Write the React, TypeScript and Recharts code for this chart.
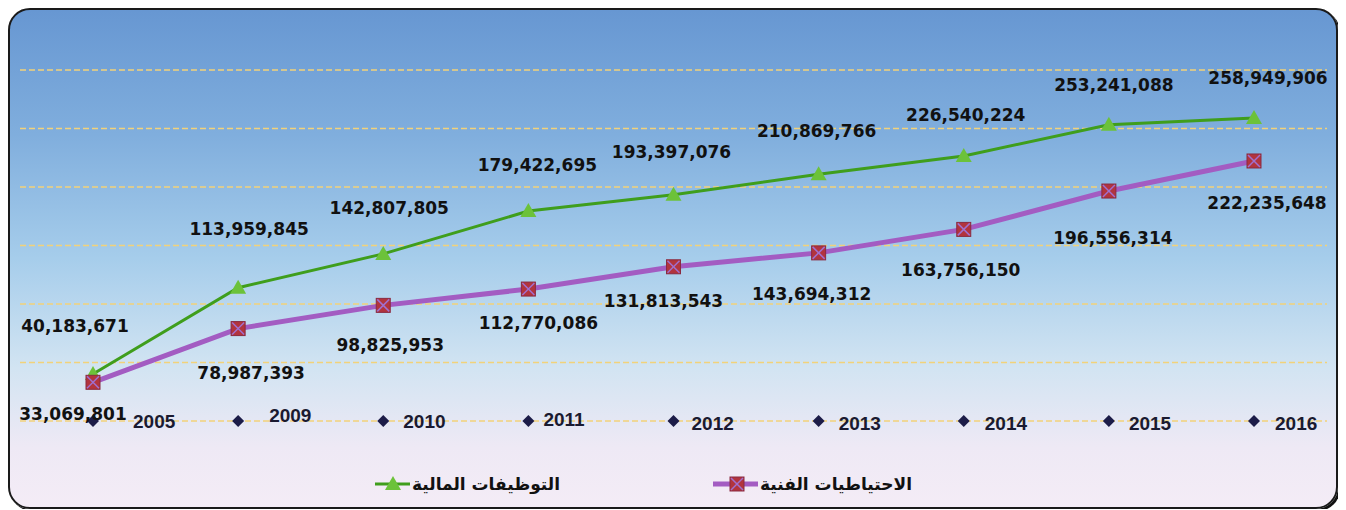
import { LineChart, Line, XAxis, YAxis, CartesianGrid, LabelList, Legend } from "recharts";

const years = ["2005", "2009", "2010", "2011", "2012", "2013", "2014", "2015", "2016"];
// التوظيفات المالية
const investments = [40183671, 113959845, 142807805, 179422695, 193397076, 210869766, 226540224, 253241088, 258949906];
// الاحتياطيات الفنية
const reserves = [33069801, 78987393, 98825953, 112770086, 131813543, 143694312, 163756150, 196556314, 222235648];
const yTicks = [0, 50000000, 100000000, 150000000, 200000000, 250000000, 300000000];

const data = years.map((year, i) => ({ year, investments: investments[i], reserves: reserves[i] }));

// label nudges (px), per point
const greenShift = [[-18, -48], [11, -59], [6, -46], [9, -46], [-2, -43], [-2, -43], [2, -41], [5, -40], [14, -40]];
const purpleShift = [[-20, 32], [13, 44], [7, 40], [10, 34], [-10, 34], [-7, 41], [-3, 41], [4, 47], [13, 42]];
const yearShift = [[40, 0], [31, -6], [20, 0], [15, -2], [18, 2], [20, 2], [21, 2], [20, 2], [21, 2]];

const GREEN = "#3f9e1c";
const TRI = "#6cc23a";
const PURPLE = "#a35cc2";
const SQUARE = "#b2343e";
const labelFont = "'DejaVu Sans', sans-serif";

const Triangle = ({ cx, cy }: any) => (
  <polygon points={`${cx},${cy - 8} ${cx - 8},${cy + 6} ${cx + 8},${cy + 6}`} fill={TRI} />
);

const CrossSquare = ({ cx, cy }: any) => (
  <g>
    <rect x={cx - 7} y={cy - 7} width={14} height={14} fill={SQUARE} stroke="#8a2a40" strokeWidth={1} />
    <line x1={cx - 6} y1={cy - 6} x2={cx + 6} y2={cy + 6} stroke="#a070d0" strokeWidth={1.5} />
    <line x1={cx + 6} y1={cy - 6} x2={cx - 6} y2={cy + 6} stroke="#a070d0" strokeWidth={1.5} />
  </g>
);

const makeLabel = (shift: number[][]) => (props: any) => {
  const { x, y, value, index } = props;
  const [dx, dy] = shift[index] || [0, 0];
  return (
    <text
      x={x + dx}
      y={y + dy}
      textAnchor="middle"
      dominantBaseline="central"
      fontFamily={labelFont}
      fontWeight="bold"
      fontSize={17}
      fill="#111"
    >
      {Number(value).toLocaleString("en-US")}
    </text>
  );
};

const YearTick = (props: any) => {
  const { x, y, payload, index } = props;
  const [dx, dy] = yearShift[index] || [20, 0];
  return (
    <g>
      <polygon points={`${x},${y - 6} ${x + 6},${y} ${x},${y + 6} ${x - 6},${y}`} fill="#1c1c48" />
      <text
        x={x + dx}
        y={y + dy}
        dominantBaseline="central"
        fontFamily="'Liberation Sans', Arial, sans-serif"
        fontWeight="bold"
        fontSize={19}
        fill="#1a1a30"
      >
        {payload.value}
      </text>
    </g>
  );
};

const renderLegend = () => (
  <svg width={1326} height={30}>
    <line x1={365} y1={14} x2={400} y2={14} stroke={GREEN} strokeWidth={3} />
    <Triangle cx={383} cy={14} />
    <text x={402} y={14} dominantBaseline="central" fontFamily={labelFont} fontWeight="bold" fontSize={17} fill="#111">
      التوظيفات المالية
    </text>
    <line x1={703} y1={14} x2={748} y2={14} stroke={PURPLE} strokeWidth={5} />
    <CrossSquare cx={727} cy={14} />
    <text x={750} y={14} dominantBaseline="central" fontFamily={labelFont} fontWeight="bold" fontSize={17} fill="#111">
      الاحتياطيات الفنية
    </text>
  </svg>
);

export default function App() {
  return (
    <div
      style={{
        width: 1330,
        height: 501,
        boxSizing: "border-box",
        border: "2px solid #1a1a1a",
        borderRadius: 22,
        boxShadow: "2px 2px 0 #111",
        background:
          "linear-gradient(to bottom, #6797d2 0%, #80aedd 25%, #a6cdeb 50%, #d2e4f2 72%, #eee9f5 88%, #f4ecf6 100%)",
        position: "relative",
        overflow: "hidden",
      }}
    >
      <LineChart width={1326} height={497} data={data} margin={{ top: 60, right: 9, bottom: 26, left: 10 }}>
        <CartesianGrid vertical={false} stroke="#f2d27a" strokeDasharray="6 3" strokeWidth={1.5} />
        <XAxis
          dataKey="year"
          padding={{ left: 73, right: 73 }}
          axisLine={false}
          tickLine={false}
          tickSize={0}
          tickMargin={0}
          height={30}
          interval={0}
          tick={<YearTick />}
        />
        <YAxis hide domain={[0, 300000000]} ticks={yTicks} />
        <Legend
          content={renderLegend}
          wrapperStyle={{ left: 0, top: 460, width: 1326, height: 30 }}
        />
        <Line
          dataKey="investments"
          stroke={GREEN}
          strokeWidth={3}
          dot={<Triangle />}
          activeDot={false}
          isAnimationActive={false}
        >
          <LabelList dataKey="investments" content={makeLabel(greenShift)} />
        </Line>
        <Line
          dataKey="reserves"
          stroke={PURPLE}
          strokeWidth={5}
          dot={<CrossSquare />}
          activeDot={false}
          isAnimationActive={false}
        >
          <LabelList dataKey="reserves" content={makeLabel(purpleShift)} />
        </Line>
      </LineChart>
    </div>
  );
}
